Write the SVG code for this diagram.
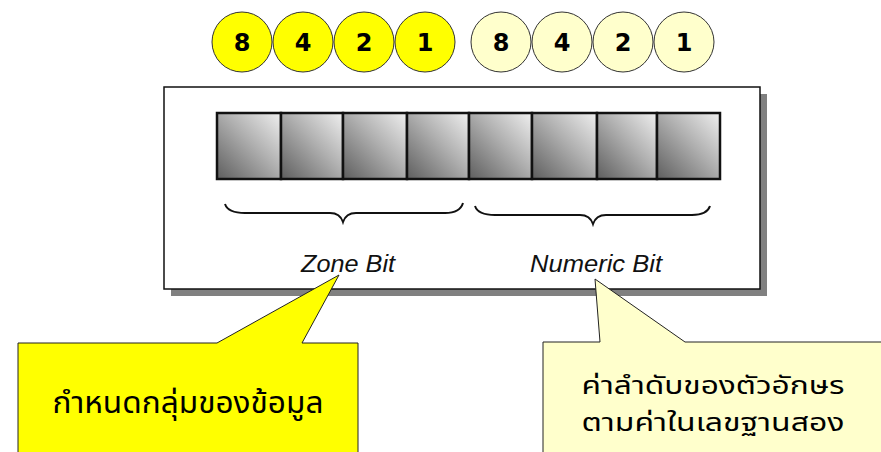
<svg xmlns="http://www.w3.org/2000/svg" width="881" height="452" viewBox="0 0 881 452">
<defs>
<linearGradient id="cellg" x1="0" y1="1" x2="1" y2="0">
<stop offset="0" stop-color="#5e5e5e"/>
<stop offset="0.55" stop-color="#b0b0b0"/>
<stop offset="1" stop-color="#efefef"/>
</linearGradient>
<style>
.c1{fill:#ffff00;stroke:#333;stroke-width:1}
.c2{fill:#ffffcc;stroke:#333;stroke-width:1}
.num{font-family:"DejaVu Sans",Verdana,sans-serif;font-weight:bold;font-size:24px;fill:#000;text-anchor:middle}
.cell{fill:url(#cellg);stroke:#111;stroke-width:2.5}
.brace{fill:none;stroke:#111;stroke-width:2}
.lbl{font-family:"Liberation Sans",Arial,sans-serif;font-style:italic;font-size:23px;fill:#111;text-anchor:middle}
.th{font-family:"Noto Sans Thai","Tahoma","Noto Sans",sans-serif;font-size:30px;fill:#000;text-anchor:middle}
.th2{font-family:"Noto Sans Thai","Tahoma","Noto Sans",sans-serif;font-size:25px;fill:#000;text-anchor:middle}
.call{stroke:#222;stroke-width:1}
</style>
</defs>
<g id="bits">
<circle class="c1" cx="242" cy="42" r="30"/><text class="num" x="242" y="51">8</text>
<circle class="c1" cx="303" cy="42" r="30"/><text class="num" x="303" y="51">4</text>
<circle class="c1" cx="364" cy="42" r="30"/><text class="num" x="364" y="51">2</text>
<circle class="c1" cx="425" cy="42" r="30"/><text class="num" x="425" y="51">1</text>
<circle class="c2" cx="501" cy="42" r="30"/><text class="num" x="501" y="51">8</text>
<circle class="c2" cx="562" cy="42" r="30"/><text class="num" x="562" y="51">4</text>
<circle class="c2" cx="623" cy="42" r="30"/><text class="num" x="623" y="51">2</text>
<circle class="c2" cx="684" cy="42" r="30"/><text class="num" x="684" y="51">1</text>
</g>
<g id="byte-box">
<rect x="171" y="94" width="596" height="202" fill="#808080"/>
<rect x="164" y="87" width="596" height="202" fill="#fff" stroke="#111" stroke-width="1.5"/>
<rect class="cell" x="217" y="113" width="64" height="66"/>
<rect class="cell" x="281" y="113" width="62" height="66"/>
<rect class="cell" x="343" y="113" width="64" height="66"/>
<rect class="cell" x="407" y="113" width="62" height="66"/>
<rect class="cell" x="469" y="113" width="63" height="66"/>
<rect class="cell" x="532" y="113" width="65" height="66"/>
<rect class="cell" x="597" y="113" width="60" height="66"/>
<rect class="cell" x="657" y="113" width="63" height="66"/>
<path class="brace" d="M225,204 Q228,213 245,213 L330,213 Q340,213 343,222 Q346,213 356,213 L445,213 Q460,213 463,203"/>
<path class="brace" d="M475,206 Q478,215 495,215 L580,215 Q590,215 593,224 Q596,215 606,215 L692,215 Q707,215 710,206"/>
<text class="lbl" x="348" y="272" textLength="94" lengthAdjust="spacingAndGlyphs">Zone Bit</text>
<text class="lbl" x="596" y="272" textLength="132" lengthAdjust="spacingAndGlyphs">Numeric Bit</text>
</g>
<g id="callout-zone">
<path class="call" fill="#ffff00" d="M18,343 L217,343 L339,275 L302,343 L358,343 L358,460 L18,460 Z"/>
<text class="th" x="188" y="413" textLength="271" lengthAdjust="spacingAndGlyphs">กำหนดกลุ่มของข้อมูล</text>
</g>
<g id="callout-numeric">
<path class="call" fill="#ffffcc" d="M543,342 L600,342 L595,279 L685,342 L890,342 L890,460 L543,460 Z"/>
<text class="th2" x="713" y="394" textLength="263" lengthAdjust="spacingAndGlyphs">ค่าลำดับของตัวอักษร</text>
<text class="th2" x="713" y="431" textLength="263" lengthAdjust="spacingAndGlyphs">ตามค่าในเลขฐานสอง</text>
</g>
</svg>
